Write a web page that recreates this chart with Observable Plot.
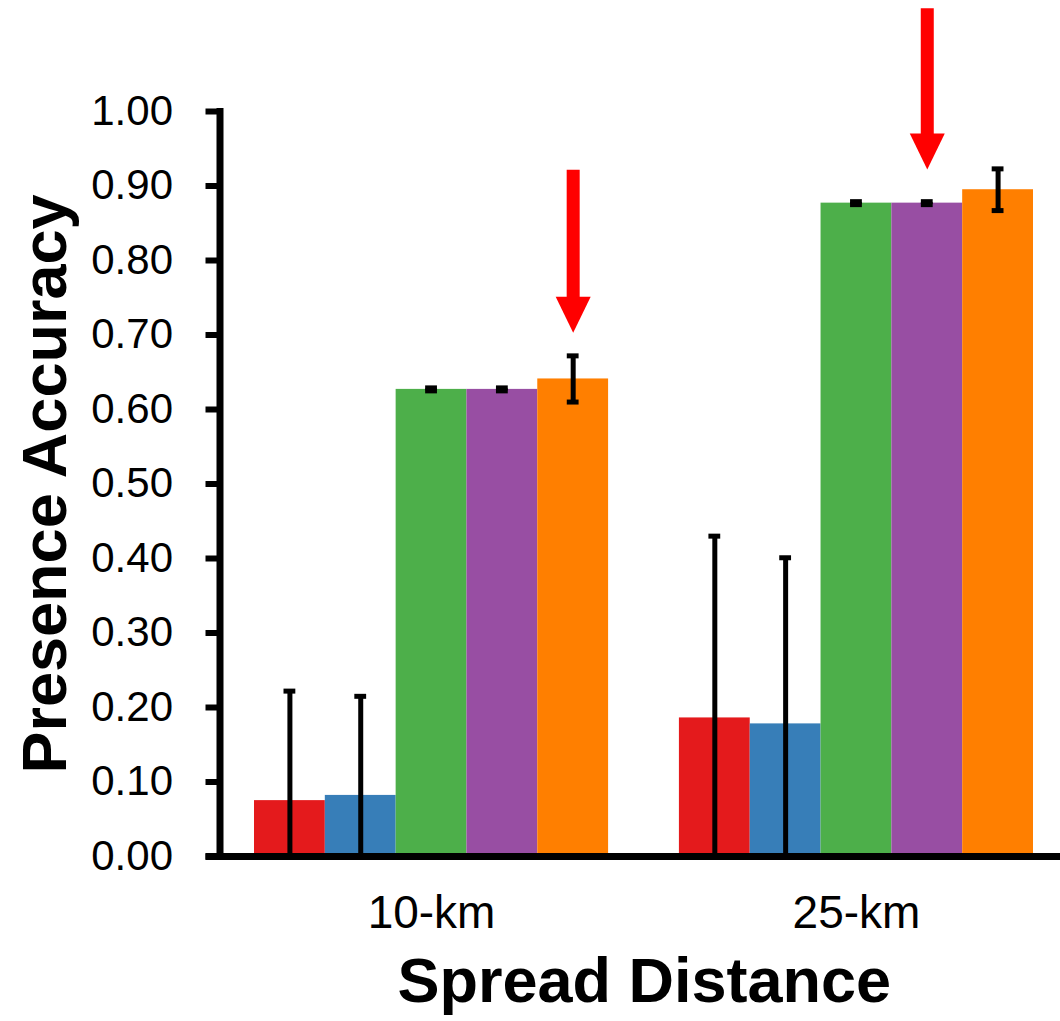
<!DOCTYPE html>
<html><head><meta charset="utf-8">
<script src="https://cdn.jsdelivr.net/npm/d3@7"></script>
<script src="https://cdn.jsdelivr.net/npm/@observablehq/plot@0.6"></script>
<style>body{margin:0;background:#fff}</style>
</head><body><div id="chart"></div>
<script>
const distances = ["10-km", "25-km"];
const methods = ["Method 1", "Method 2", "Method 3", "Method 4", "Method 5"];
const methodColors = ["#e41a1c", "#377eb8", "#4daf4a", "#984ea3", "#ff7f00"];
const values10 = [0.075, 0.082, 0.627, 0.627, 0.641];
const errors10 = [0.147, 0.133, 0.002, 0.002, 0.031];
const values25 = [0.186, 0.178, 0.877, 0.877, 0.895];
const errors25 = [0.244, 0.223, 0.002, 0.002, 0.028];
const yTicks = [0, 0.1, 0.2, 0.3, 0.4, 0.5, 0.6, 0.7, 0.8, 0.9, 1.0];
const arrowDistances = ["10-km", "25-km"];
const arrowMethods = ["Method 5", "Method 4"];
const arrowFrom = [0.921, 1.138];
const arrowTo = [0.703, 0.922];

const keyOf = (d, m) => d + "|" + m;
const rows = [];
[[distances[0], values10, errors10], [distances[1], values25, errors25]].forEach(([d, vals, errs]) => {
  methods.forEach((m, i) => {
    rows.push({distance: d, method: m, key: keyOf(d, m), value: vals[i],
      lo: Math.max(0, vals[i] - errs[i]), hi: vals[i] + errs[i]});
  });
});
const xDomain = [...methods.map(m => keyOf(distances[0], m)), "gap", ...methods.map(m => keyOf(distances[1], m))];
const labelKeys = distances.map(d => keyOf(d, methods[2]));
const arrows = arrowDistances.map((d, i) => ({key: keyOf(d, arrowMethods[i]), from: arrowFrom[i], to: arrowTo[i]}));

const chart = Plot.plot({
  width: 1060, height: 1021,
  marginLeft: 219.5, marginRight: 0, marginTop: 111, marginBottom: 165,
  style: {fontFamily: "'Liberation Sans', Arial, sans-serif", background: "#fff", overflow: "visible", color: "#000"},
  x: {type: "band", domain: xDomain, range: [254, 1033], padding: 0, round: false, axis: null},
  y: {domain: [0, 1], axis: null},
  color: {domain: methods, range: methodColors},
  marks: [
    Plot.barY(rows, {x: "key", y: "value", fill: "method"}),
    Plot.ruleX(rows, {x: "key", y1: "lo", y2: "hi", stroke: "#000", strokeWidth: 5}),
    Plot.tickY(rows, {x: "key", y: "hi", stroke: "#000", strokeWidth: 5, insetLeft: 29.5, insetRight: 29.5}),
    Plot.tickY(rows.filter(r => r.lo > 0), {x: "key", y: "lo", stroke: "#000", strokeWidth: 5, insetLeft: 29.5, insetRight: 29.5}),
    Plot.ruleX(arrows, {x: "key", y1: "from", y2: "to", insetBottom: 34, stroke: "#ff0000", strokeWidth: 13}),
    Plot.vector(arrows, {x: "key", y: "to", length: 36, rotate: 180, anchor: "end", shape: "spike", r: 17.5, fill: "#ff0000", stroke: "none"}),
    Plot.ruleY([0], {stroke: "#000", strokeWidth: 7, insetLeft: -14}),
    Plot.frame({anchor: "left", stroke: "#000", strokeWidth: 7}),
    Plot.axisY({ticks: yTicks, tickFormat: d3.format(".2f"), tickSize: 14, tickPadding: 33, fontSize: 42, strokeWidth: 6, label: null, stroke: "#000", fill: "#000"}),
    Plot.axisX({ticks: labelKeys, tickFormat: k => k.split("|")[0], tickSize: 0, tickPadding: 39, fontSize: 46, label: null, fill: "#000"}),
    Plot.text(["Spread Distance"], {text: d => d, frameAnchor: "bottom", textAnchor: "middle", lineAnchor: "middle", dy: 125, dx: 4, fontSize: 63, fontWeight: "bold", fill: "#000"}),
    Plot.text(["Presence Accuracy"], {text: d => d, frameAnchor: "left", textAnchor: "middle", lineAnchor: "middle", rotate: -90, dx: -174, fontSize: 63, fontWeight: "bold", fill: "#000"})
  ]
});
document.getElementById("chart").appendChild(chart);
</script>
</body></html>
